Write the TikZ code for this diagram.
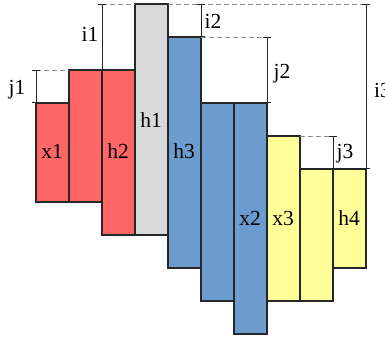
\documentclass[tikz,border=0pt]{standalone}
\usepackage{fontspec}
\setmainfont{Liberation Serif}
\usetikzlibrary{arrows.meta}
\definecolor{cred}{HTML}{FF6666}
\definecolor{cgray}{HTML}{D9D9D9}
\definecolor{cblue}{HTML}{6C9BCF}
\definecolor{cyel}{HTML}{FFFF99}
\begin{document}
\begin{tikzpicture}[x=1pt,y=-1pt,
  bar/.style={draw=black!85,line width=1.1pt},
  lbl/.style={font=\fontsize{21.5}{24}\selectfont,inner sep=0pt,anchor=base},
  dim/.style={draw=black!85,line width=0.9pt,{Bar[width=8pt]}-{Bar[width=8pt]}},
  guide/.style={draw=black!45,line width=0.8pt,dash pattern=on 5pt off 3pt}]
\useasboundingbox (0,0) rectangle (385,338);
% bars
\filldraw[bar,fill=cred] (36,103) rectangle (69,202);
\filldraw[bar,fill=cred] (69,70) rectangle (102,202);
\filldraw[bar,fill=cred] (102,70) rectangle (135,235);
\filldraw[bar,fill=cgray] (135,4) rectangle (168,235);
\filldraw[bar,fill=cblue] (168,37) rectangle (201,268);
\filldraw[bar,fill=cblue] (201,103) rectangle (234,301);
\filldraw[bar,fill=cblue] (234,103) rectangle (267,334);
\filldraw[bar,fill=cyel] (267,136) rectangle (300,301);
\filldraw[bar,fill=cyel] (300,169) rectangle (333,301);
\filldraw[bar,fill=cyel] (333,169) rectangle (366,268);
% labels in bars
\node[lbl] (x1) at (52,158) {x1};
\node[lbl] (h2) at (118,158) {h2};
\node[lbl] (h1) at (151,127) {h1};
\node[lbl] (h3) at (184,158) {h3};
\node[lbl] (x2) at (250,225) {x2};
\node[lbl] (x3) at (283,225) {x3};
\node[lbl] (h4) at (349,225) {h4};
% coordinates
\coordinate (j1t) at (36,70);
\coordinate (j1b) at (36,103);
\coordinate (j1r) at (69,70);
\coordinate (i1t) at (102,4);
\coordinate (i1b) at (102,70);
\coordinate (i1r) at (135,4);
\coordinate (i2l) at (168,4);
\coordinate (i2t) at (201,4);
\coordinate (i2b) at (201,37);
\coordinate (j2t) at (267,37);
\coordinate (j2b) at (267,103);
\coordinate (j3l) at (300,136);
\coordinate (j3t) at (333,136);
\coordinate (j3b) at (333,169);
\coordinate (i3t) at (366,4);
\coordinate (i3b) at (366,169);
% guides
\draw[guide] (j1t) -- (j1r);
\draw[guide] (i1t) -- (i1r);
\draw[guide] (i2l) -- (i3t);
\draw[guide] (i2b) -- (j2t);
\draw[guide] (j3l) -- (j3t);
% dimensions
\draw[dim] (j1t) -- (j1b);
\draw[dim] (i1t) -- (i1b);
\draw[dim] (i2t) -- (i2b);
\draw[dim] (j2t) -- (j2b);
\draw[dim] (j3t) -- (j3b);
\draw[dim] (i3t) -- (i3b);
% dimension labels
\node[lbl] (lj1) at (17,94) {j1};
\node[lbl] (li1) at (90,41) {i1};
\node[lbl] (li2) at (213,28) {i2};
\node[lbl] (lj2) at (282,78) {j2};
\node[lbl] (lj3) at (345,158) {j3};
\node[lbl,anchor=base west] (li3) at (374,97) {i3};
\end{tikzpicture}
\end{document}
